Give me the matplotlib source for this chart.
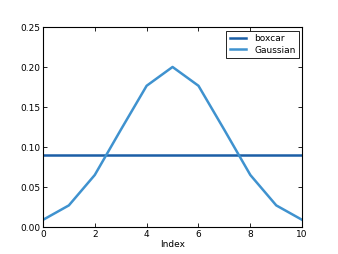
import numpy as np
import matplotlib
matplotlib.use('Agg')
from matplotlib import pyplot as plt

index = [0, 1, 2, 3, 4, 5, 6, 7, 8, 9, 10]
boxcar = [0.0909] * 11
gaussian = [0.0093, 0.0274, 0.0654, 0.1216, 0.1768, 0.2003, 0.1768, 0.1216, 0.0654, 0.0274, 0.0093]

plt.rcParams['font.size'] = 7
plt.rcParams['xtick.direction'] = 'in'
plt.rcParams['ytick.direction'] = 'in'
plt.rcParams['xtick.top'] = True
plt.rcParams['ytick.right'] = True

fig = plt.figure(figsize=(3.38, 2.54), dpi=100)
ax = fig.add_axes([0.127, 0.105, 0.767, 0.788])
ax.plot(index, boxcar, color='#1b5ea6', lw=1.8, label='boxcar')
ax.plot(index, gaussian, color='#3f92cf', lw=1.8, label='Gaussian')
ax.set_xlim(0, 10)
ax.set_ylim(0, 0.25)
ax.set_xticks([0, 2, 4, 6, 8, 10])
ax.set_yticks([0, 0.05, 0.10, 0.15, 0.20, 0.25])
ax.yaxis.set_major_formatter(plt.FormatStrFormatter('%.2f'))
ax.tick_params(length=3, width=0.6, pad=2, labelsize=6.5)
for s in ax.spines.values():
    s.set_linewidth(0.8)
ax.set_xlabel('Index', fontsize=6.5, labelpad=1)
leg = ax.legend(loc='upper right', fontsize=6.5, fancybox=False, framealpha=1,
                edgecolor='black', borderaxespad=0.4, handlelength=1.8,
                labelspacing=0.3, borderpad=0.35, handletextpad=0.9)
leg.get_frame().set_linewidth(0.6)
fig.savefig('out.png', dpi=100)
